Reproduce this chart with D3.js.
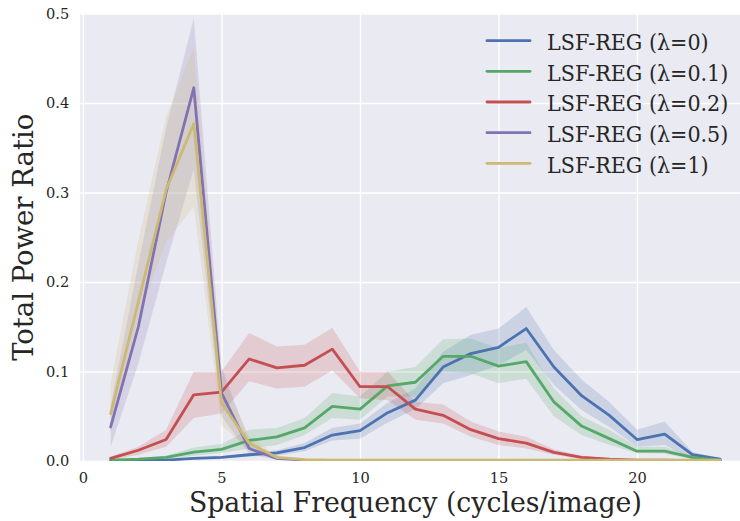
<!DOCTYPE html>
<html><head><meta charset="utf-8">
<script src="https://cdn.jsdelivr.net/npm/d3@7"></script>
<style>body{margin:0;background:#fff}svg{display:block}</style>
</head><body><svg id="c" width="740" height="521"></svg>
<script>
const freqs = d3.range(1, 24);
const seriesNames = ["LSF-REG (λ=0)", "LSF-REG (λ=0.1)", "LSF-REG (λ=0.2)", "LSF-REG (λ=0.5)", "LSF-REG (λ=1)"];
const colors = ["#4C72B0", "#55A868", "#C44E52", "#8172B2", "#CCB974"];
const xTicks = [0, 5, 10, 15, 20];
const yTicks = [0, 0.1, 0.2, 0.3, 0.4, 0.5];

const mean0 = [0.0005,0.0008,0.001,0.003,0.004,0.007,0.009,0.015,0.029,0.034,0.054,0.068,0.105,0.120,0.127,0.148,0.105,0.073,0.051,0.024,0.030,0.007,0.002];
const low0  = [0.0002,0.0004,0.0006,0.002,0.003,0.005,0.006,0.011,0.023,0.025,0.043,0.058,0.087,0.096,0.107,0.124,0.085,0.057,0.038,0.016,0.018,0.002,0.001];
const up0   = [0.001,0.0012,0.0015,0.004,0.005,0.009,0.012,0.020,0.037,0.042,0.065,0.081,0.122,0.141,0.148,0.172,0.124,0.091,0.066,0.035,0.044,0.010,0.003];

const mean1 = [0.001,0.002,0.004,0.010,0.013,0.023,0.027,0.037,0.061,0.058,0.084,0.088,0.117,0.117,0.106,0.111,0.066,0.039,0.025,0.011,0.011,0.004,0.001];
const low1  = [0.0005,0.001,0.002,0.006,0.009,0.014,0.018,0.029,0.048,0.046,0.072,0.072,0.100,0.098,0.087,0.092,0.050,0.029,0.018,0.009,0.008,0.002,0.0005];
const up1   = [0.0015,0.003,0.006,0.015,0.019,0.035,0.037,0.048,0.076,0.072,0.100,0.105,0.136,0.137,0.126,0.132,0.081,0.050,0.035,0.016,0.016,0.006,0.002];

const mean2 = [0.003,0.012,0.024,0.074,0.077,0.114,0.104,0.107,0.125,0.083,0.083,0.058,0.051,0.035,0.025,0.020,0.0097,0.004,0.002,0.001,0.001,0.0005,0.0003];
const low2  = [0.001,0.007,0.016,0.048,0.053,0.089,0.081,0.083,0.101,0.070,0.068,0.046,0.042,0.027,0.018,0.014,0.007,0.002,0.001,0.0005,0.0005,0.0002,0.0001];
const up2   = [0.005,0.016,0.035,0.100,0.100,0.143,0.128,0.130,0.149,0.100,0.100,0.066,0.063,0.044,0.033,0.027,0.013,0.006,0.003,0.0015,0.0015,0.001,0.0005];

const mean3 = [0.038,0.150,0.300,0.417,0.076,0.014,0.003,0.001,0.0008,0.0006,0.0005,0.0005,0.0005,0.0005,0.0005,0.0005,0.0005,0.0005,0.0005,0.0005,0.0005,0.0005,0.0005];
const low3  = [0.016,0.109,0.221,0.326,0.050,0.008,0.001,0.0005,0.0004,0.0003,0.0003,0.0003,0.0003,0.0003,0.0003,0.0003,0.0003,0.0003,0.0003,0.0003,0.0003,0.0003,0.0003];
const up3   = [0.062,0.220,0.372,0.495,0.105,0.022,0.005,0.0015,0.0012,0.001,0.0008,0.0008,0.0008,0.0008,0.0008,0.0008,0.0008,0.0008,0.0008,0.0008,0.0008,0.0008,0.0008];

const mean4 = [0.053,0.178,0.303,0.377,0.065,0.020,0.004,0.0015,0.001,0.001,0.001,0.001,0.001,0.001,0.001,0.001,0.001,0.001,0.001,0.001,0.001,0.001,0.001];
const low4  = [0.031,0.160,0.245,0.284,0.040,0.012,0.002,0.001,0.0006,0.0006,0.0006,0.0006,0.0006,0.0006,0.0006,0.0006,0.0006,0.0006,0.0006,0.0006,0.0006,0.0006,0.0006];
const up4   = [0.087,0.247,0.385,0.462,0.095,0.028,0.006,0.002,0.0015,0.0015,0.0015,0.0015,0.0015,0.0015,0.0015,0.0015,0.0015,0.0015,0.0015,0.0015,0.0015,0.0015,0.0015];

const means = [mean0, mean1, mean2, mean3, mean4];
const lows = [low0, low1, low2, low3, low4];
const ups = [up0, up1, up2, up3, up4];

const svg = d3.select("#c");
const L = 80.2, R = 750.6, T = 13.5, B = 461;
const x = d3.scaleLinear().domain([-0.1, 24.1]).range([L, R]);
const y = d3.scaleLinear().domain([0, 0.5]).range([B, T]);
const font = "'DejaVu Serif', serif";
const fontC = "'DejaVu Serif Condensed', 'DejaVu Serif', serif";
const txt = "#262626";

svg.append("rect").attr("x", L).attr("y", T).attr("width", R - L).attr("height", B - T).attr("fill", "#EAEAF2");

const gx = svg.append("g").attr("transform", `translate(0,${B})`)
  .call(d3.axisBottom(x).tickValues(xTicks).tickFormat(d3.format("d")).tickSize(-(B - T)).tickPadding(11));
const gy = svg.append("g").attr("transform", `translate(${L},0)`)
  .call(d3.axisLeft(y).tickValues(yTicks).tickFormat(d3.format(".1f")).tickSize(-(R - L)).tickPadding(11));
[gx, gy].forEach(g => {
  g.select(".domain").remove();
  g.selectAll(".tick line").attr("stroke", "#fff").attr("stroke-width", 1.4);
  g.selectAll(".tick text").attr("fill", txt).attr("font-family", font).attr("font-size", 14.6);
});
gx.selectAll(".tick text").attr("dy", "0.72em");

svg.append("clipPath").attr("id", "clip").append("rect")
  .attr("x", L).attr("y", T).attr("width", R - L).attr("height", B - T);
const plot = svg.append("g").attr("clip-path", "url(#clip)");

means.forEach((m, i) => {
  const area = d3.area().x((d, j) => x(freqs[j])).y0((d, j) => y(lows[i][j])).y1((d, j) => y(ups[i][j]));
  plot.append("path").datum(m).attr("d", area).attr("fill", colors[i]).attr("fill-opacity", 0.2).attr("stroke", "none");
});
means.forEach((m, i) => {
  const line = d3.line().x((d, j) => x(freqs[j])).y(d => y(d));
  plot.append("path").datum(m).attr("d", line).attr("fill", "none").attr("stroke", colors[i])
    .attr("stroke-width", 2.8).attr("stroke-linejoin", "round").attr("stroke-linecap", "round");
});

// legend
const legendLengths = [161.6, 181.3, 181.3, 181.3, 161.6];
const lg = svg.append("g");
seriesNames.forEach((name, i) => {
  const yy = 40.7 + i * 30.65;
  lg.append("line").attr("x1", 487).attr("x2", 530).attr("y1", yy).attr("y2", yy)
    .attr("stroke", colors[i]).attr("stroke-width", 2.8).attr("stroke-linecap", "round");
  lg.append("text").attr("x", 547).attr("y", yy + 9.2).attr("fill", txt).attr("font-family", fontC)
    .attr("font-size", 22.5).attr("textLength", legendLengths[i]).attr("lengthAdjust", "spacingAndGlyphs")
    .text(name);
});

// axis labels
svg.append("text").attr("x", (L + R) / 2).attr("y", 512.3).attr("text-anchor", "middle")
  .attr("fill", txt).attr("font-family", fontC).attr("font-size", 28.5)
  .attr("textLength", 453).attr("lengthAdjust", "spacingAndGlyphs")
  .text("Spatial Frequency (cycles/image)");
svg.append("text").attr("transform", `translate(33,${(T + B) / 2}) rotate(-90)`).attr("text-anchor", "middle")
  .attr("fill", txt).attr("font-family", fontC).attr("font-size", 28.5)
  .attr("textLength", 247).attr("lengthAdjust", "spacingAndGlyphs")
  .text("Total Power Ratio");
</script></body></html>
